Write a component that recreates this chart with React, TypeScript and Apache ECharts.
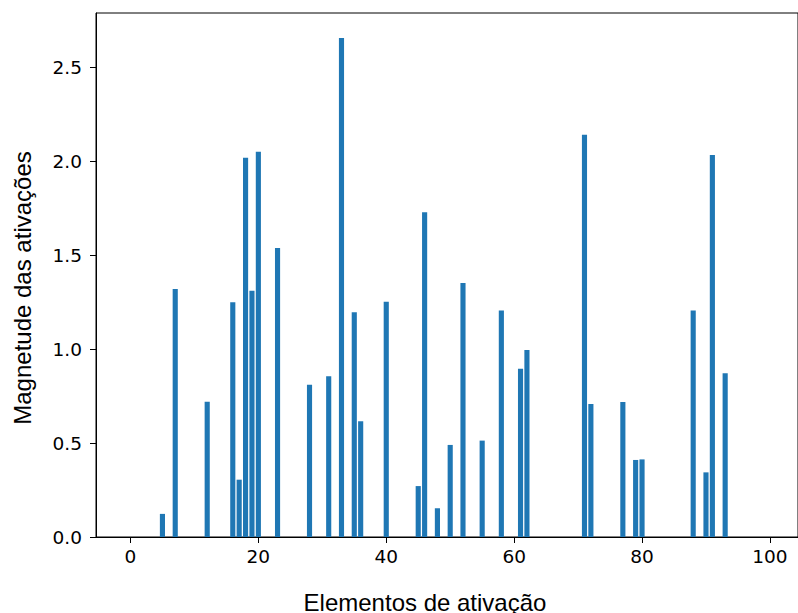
import React, { useEffect, useRef } from "react";
import * as echarts from "echarts";

const N = 100;
// nonzero activation elements: index and magnitude
const activeIdx = [5, 7, 12, 16, 17, 18, 19, 20, 23, 28, 31, 33, 35, 36, 40, 45, 46, 48, 50, 52, 55, 58, 61, 62, 71, 72, 77, 79, 80, 88, 90, 91, 93];
const activeVal = [0.123, 1.32, 0.72, 1.25, 0.305, 2.018, 1.31, 2.05, 1.538, 0.81, 0.855, 2.656, 1.196, 0.616, 1.252, 0.271, 1.728, 0.153, 0.49, 1.352, 0.513, 1.205, 0.896, 0.995, 2.141, 0.708, 0.718, 0.41, 0.413, 1.205, 0.344, 2.033, 0.871];
const xTicks = [0, 20, 40, 60, 80, 100];
const yTicks = [0, 0.5, 1.0, 1.5, 2.0, 2.5];
const xTitle = "Elementos de ativação";
const yTitle = "Magnetude das ativações";

export default function App() {
  const ref = useRef<HTMLDivElement>(null);
  useEffect(() => {
    if (!ref.current) return;
    const chart = echarts.init(ref.current, null, { renderer: "svg" });
    const values: number[] = new Array(N).fill(0);
    activeIdx.forEach((i, k) => (values[i] = activeVal[k]));
    const data = values.map((v, i) => [i, v]);
    const xMin = -0.4 - 0.05 * (N - 1 + 0.8);
    const xMax = N - 1 + 0.4 + 0.05 * (N - 1 + 0.8);
    const maxV = Math.max(...activeVal);
    const yMax = maxV * 1.05;
    const gridLeft = 96;
    const gridRight = -2;
    const gridW = 798 - gridLeft - gridRight;
    const barW = (gridW / (xMax - xMin)) * 0.8;
    const titleFont = "'Liberation Sans', Arial, Helvetica, sans-serif";
    const tickFont = "'DejaVu Sans', sans-serif";
    chart.setOption({
      animation: false,
      grid: {
        left: gridLeft,
        right: gridRight,
        top: 13,
        bottom: 76,
        show: true,
        borderColor: "#000",
        borderWidth: 1,
        backgroundColor: "transparent",
      },
      xAxis: {
        type: "value",
        min: xMin,
        max: xMax,
        axisLine: { show: true, onZero: false, lineStyle: { color: "#000", width: 1 } },
        axisTick: { show: true, customValues: xTicks, length: 6, lineStyle: { color: "#000", width: 1 } },
        axisLabel: { customValues: xTicks, color: "#000", fontSize: 18.5, fontFamily: tickFont, margin: 10 },
        splitLine: { show: false },
      },
      yAxis: {
        type: "value",
        min: 0,
        max: yMax,
        axisLine: { show: true, onZero: false, lineStyle: { color: "#000", width: 1 } },
        axisTick: { show: true, customValues: yTicks, length: 6, lineStyle: { color: "#000", width: 1 } },
        axisLabel: {
          customValues: yTicks,
          color: "#000",
          fontSize: 18.5,
          fontFamily: tickFont,
          margin: 14,
          formatter: (v: number) => v.toFixed(1),
        },
        splitLine: { show: false },
      },
      graphic: [
        {
          type: "text",
          x: 425,
          y: 602,
          style: { text: xTitle, font: `24px ${titleFont}`, fill: "#000", align: "center", verticalAlign: "middle" },
        },
        {
          type: "text",
          x: 22,
          y: 288,
          rotation: Math.PI / 2,
          style: { text: yTitle, font: `24px ${titleFont}`, fill: "#000", align: "center", verticalAlign: "middle" },
        },
      ],
      series: [
        {
          type: "bar",
          data,
          barWidth: barW,
          itemStyle: { color: "#1f77b4" },
        },
      ],
    });
    return () => chart.dispose();
  }, []);
  return <div ref={ref} style={{ width: 798, height: 613, position: "absolute", left: 0, top: 0 }} />;
}
